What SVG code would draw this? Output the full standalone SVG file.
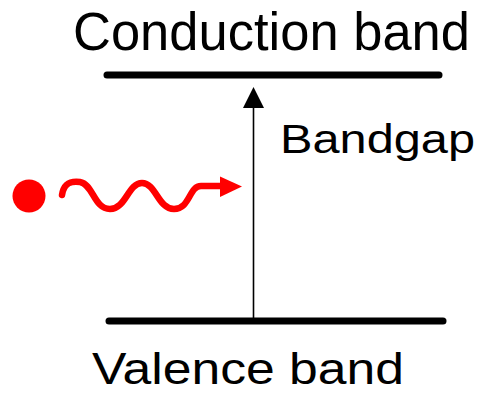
<svg xmlns="http://www.w3.org/2000/svg" width="484" height="397" viewBox="0 0 484 397">
<style>
.lbl{font-family:"Liberation Sans",Arial,sans-serif;fill:#000}
.band{stroke:#000;stroke-width:7;stroke-linecap:round}
</style>
<rect width="484" height="397" fill="#fff"/>
<g id="conduction">
<line class="band" x1="107" y1="75" x2="439" y2="75"/>
<text class="lbl" x="73" y="50" font-size="53" textLength="397" lengthAdjust="spacingAndGlyphs">Conduction band</text>
</g>
<g id="valence">
<line class="band" x1="109" y1="321" x2="443" y2="321"/>
<text class="lbl" x="92" y="384" font-size="44" textLength="312" lengthAdjust="spacingAndGlyphs">Valence band</text>
</g>
<g id="bandgap">
<text class="lbl" x="280" y="152.5" font-size="41" textLength="195" lengthAdjust="spacingAndGlyphs">Bandgap</text>
</g>
<g id="photon">
<circle cx="29" cy="196" r="16.5" fill="#f00"/>
<path d="M62,195 C64,182 72,181 80,182 C93,184 94,209 110,209 C126,209 128,183 142,183 C156,183 158,209 174,209 C190,209 189,186 201,186 L222,186" fill="none" stroke="#f00" stroke-width="6.5" stroke-linecap="round" stroke-linejoin="round"/>
<polygon points="220,176.5 242,186.5 220,197" fill="#f00"/>
</g>
<g id="connectors">
<line x1="253.5" y1="320" x2="253.5" y2="104" stroke="#000" stroke-width="1.6"/>
<polygon points="253.5,87 264,108 243,108" fill="#000"/>
</g>
</svg>
